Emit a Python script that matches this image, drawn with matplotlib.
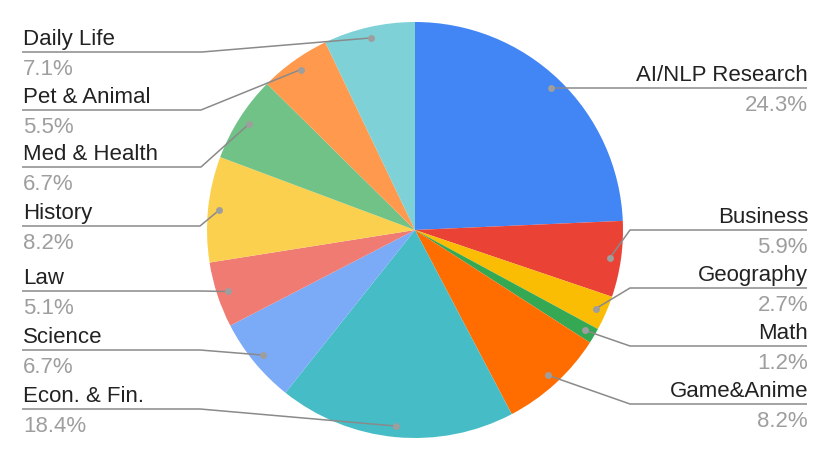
import numpy as np
import matplotlib
matplotlib.use("Agg")
import matplotlib.pyplot as plt

plt.rcParams['font.family'] = ['Liberation Sans', 'DejaVu Sans']

# data (clockwise from 12 o'clock)
categories = ["AI/NLP Research", "Business", "Geography", "Math", "Game&Anime",
              "Econ. & Fin.", "Science", "Law", "History", "Med & Health",
              "Pet & Animal", "Daily Life"]
shares = [24.3, 5.9, 2.7, 1.2, 8.2, 18.4, 6.7, 5.1, 8.2, 6.7, 5.5, 7.1]
colors = ['#4285f4', '#ea4335', '#fbbc04', '#34a853', '#ff6d01', '#46bdc6',
          '#7baaf7', '#f07b72', '#fcd04f', '#71c287', '#ff994d', '#7ed1d7']

# label layout, in pixels from the top of the image
W, H = 830, 461
label_y = [88, 230, 288, 346, 404, 409, 350, 291, 226, 167, 110, 52]
label_side = ['r'] * 5 + ['l'] * 7
elbow_x = [None, 630, 630, 630, 630, 200, 200, 200, 200, 201, 201, 202]

CX, CY, R = 415, 230, 208


def fy(py):
    return H - py


fig = plt.figure(figsize=(W / 100, H / 100), dpi=100)
ax = fig.add_axes([0, 0, 1, 1])

wedges, _ = ax.pie(shares, colors=colors, startangle=90, counterclock=False,
                   center=(CX, fy(CY)), radius=R, frame=True,
                   wedgeprops=dict(linewidth=0))
ax.set_xlim(0, W)
ax.set_ylim(0, H)
ax.set_aspect('equal')
ax.axis('off')

line_col = '#8a8a8a'
for i, w in enumerate(wedges):
    mid = np.deg2rad((w.theta1 + w.theta2) / 2)
    dx = CX + 0.947 * R * np.cos(mid)
    dy = fy(CY) + 0.947 * R * np.sin(mid)
    ly = fy(label_y[i])
    ex = elbow_x[i] if elbow_x[i] is not None else dx
    if label_side[i] == 'r':
        xs = [dx, ex, 807]
        tx, ha = 808, 'right'
    else:
        xs = [dx, ex, 22]
        tx, ha = 23, 'left'
    ax.plot(xs, [dy, ly, ly], color=line_col, lw=1.1, solid_capstyle='butt', zorder=3)
    ax.plot(dx, dy, 'o', color='#9e9e9e', ms=5, mec='none', zorder=4)
    ax.text(tx, ly + 7, categories[i], ha=ha, va='baseline', fontsize=16, color='#222222')
    ax.text(tx, ly - 23, f"{shares[i]:.1f}%", ha=ha, va='baseline', fontsize=16, color='#9e9e9e')

fig.savefig("out.png", dpi=100, facecolor='white')
